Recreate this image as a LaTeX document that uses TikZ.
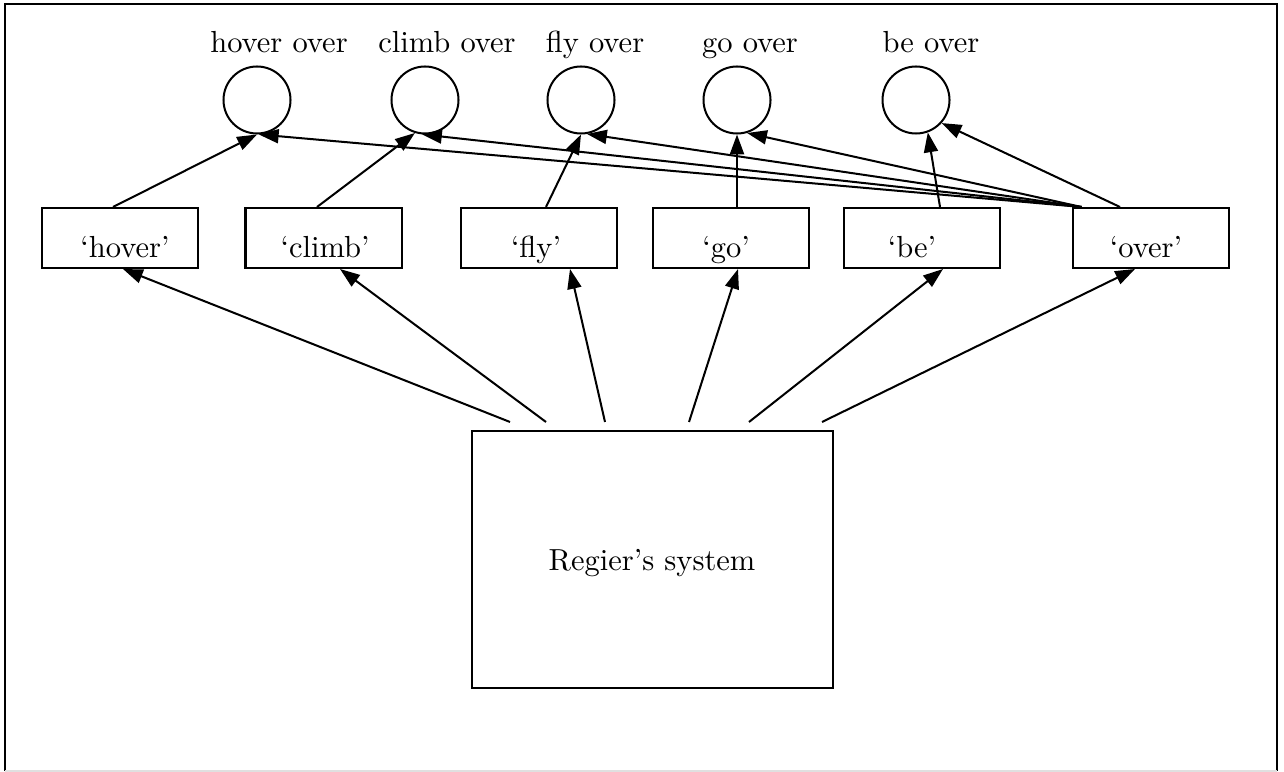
\documentclass[tikz,border=0pt]{standalone}
\usetikzlibrary{arrows.meta,calc}
\begin{document}
\begin{tikzpicture}[
  x=0.328pt, y=-0.328pt,
  every path/.style={line width=0.66pt},
  unit/.style={circle, draw, minimum size=21.98pt, inner sep=0pt},
  wordbox/.style={rectangle, draw, minimum width=51.17pt, minimum height=19.68pt, inner sep=0pt},
  sysbox/.style={rectangle, draw, minimum width=118.4pt, minimum height=84.3pt, inner sep=0pt},
  txt/.style={anchor=base, inner sep=0pt, font=\fontsize{10pt}{12pt}\selectfont},
  link/.style={-{Triangle[length=6.5pt,width=4.6pt]}}
]
\useasboundingbox (0,0) rectangle (1284,772);

% frame
\draw (5,771) -- (5,4) -- (1277,4) -- (1277,771);
\draw[black!12] (5,771) -- (1277,771);

% output units
\node[unit] (uhover) at (257,100) {};
\node[unit] (uclimb) at (425,100) {};
\node[unit] (ufly)   at (581,100) {};
\node[unit] (ugo)    at (737,100) {};
\node[unit] (ube)    at (916,100) {};

\node[txt] (lhover) at (279,53) {hover over};
\node[txt] (lclimb) at (447,53) {climb over};
\node[txt] (lfly)   at (595,53) {fly over};
\node[txt] (lgo)    at (750,53) {go over};
\node[txt] (lbe)    at (931,53) {be over};

% word boxes
\node[wordbox] (whover) at (120,238)   {};
\node[wordbox] (wclimb) at (323.5,238) {};
\node[wordbox] (wfly)   at (539,238)   {};
\node[wordbox] (wgo)    at (731,238)   {};
\node[wordbox] (wbe)    at (922,238)   {};
\node[wordbox] (wover)  at (1150.5,238) {};

\node[txt] (thover) at (125,258)  {`hover'};
\node[txt] (tclimb) at (325,258)  {`climb'};
\node[txt] (tfly)   at (536,258)  {`fly'};
\node[txt] (tgo)    at (726,258)  {`go'};
\node[txt] (tbe)    at (912,258)  {`be'};
\node[txt] (tover)  at (1146,258) {`over'};

% central system
\node[sysbox] (sys) at (652.5,559.5) {};
\node[txt] (tsys) at (652,570) {Regier's system};

% words to units
\draw[link] ($(whover.north)+(-7,0)$) -- (uhover.south);
\draw[link] ($(wclimb.north)+(-6.5,0)$) -- (uclimb.253);
\draw[link] ($(wfly.north)+(7,0)$) -- (ufly.south);
\draw[link] ($(wgo.north)+(6,0)$) -- (ugo.south);
\draw[link] ($(wbe.north)+(18,0)$) -- (ube.290);

\coordinate (ofan) at ($(wover.north west)+(10,0)$);
\draw[link] (ofan) -- (uhover.273);
\draw[link] (ofan) -- (uclimb.265);
\draw[link] (ofan) -- (ufly.280);
\draw[link] (ofan) -- (ugo.287);
\draw[link] ($(wover.north)+(-30.5,0)$) -- (ube.318);

% system to words
\draw[link] ($(sys.north)+(-142.5,-8)$) -- ($(whover.south)+(3,0)$);
\draw[link] ($(sys.north)+(-106.5,-8)$) -- ($(wclimb.south)+(16.5,0)$);
\draw[link] ($(sys.north)+(-47.5,-8)$) -- ($(wfly.south)+(31,0)$);
\draw[link] ($(sys.north)+(36.5,-8)$) -- ($(wgo.south)+(7,0)$);
\draw[link] ($(sys.north)+(96.5,-8)$) -- ($(wbe.south)+(21,0)$);
\draw[link] ($(sys.north)+(169.5,-8)$) -- ($(wover.south)+(-15.5,0)$);
\end{tikzpicture}
\end{document}
